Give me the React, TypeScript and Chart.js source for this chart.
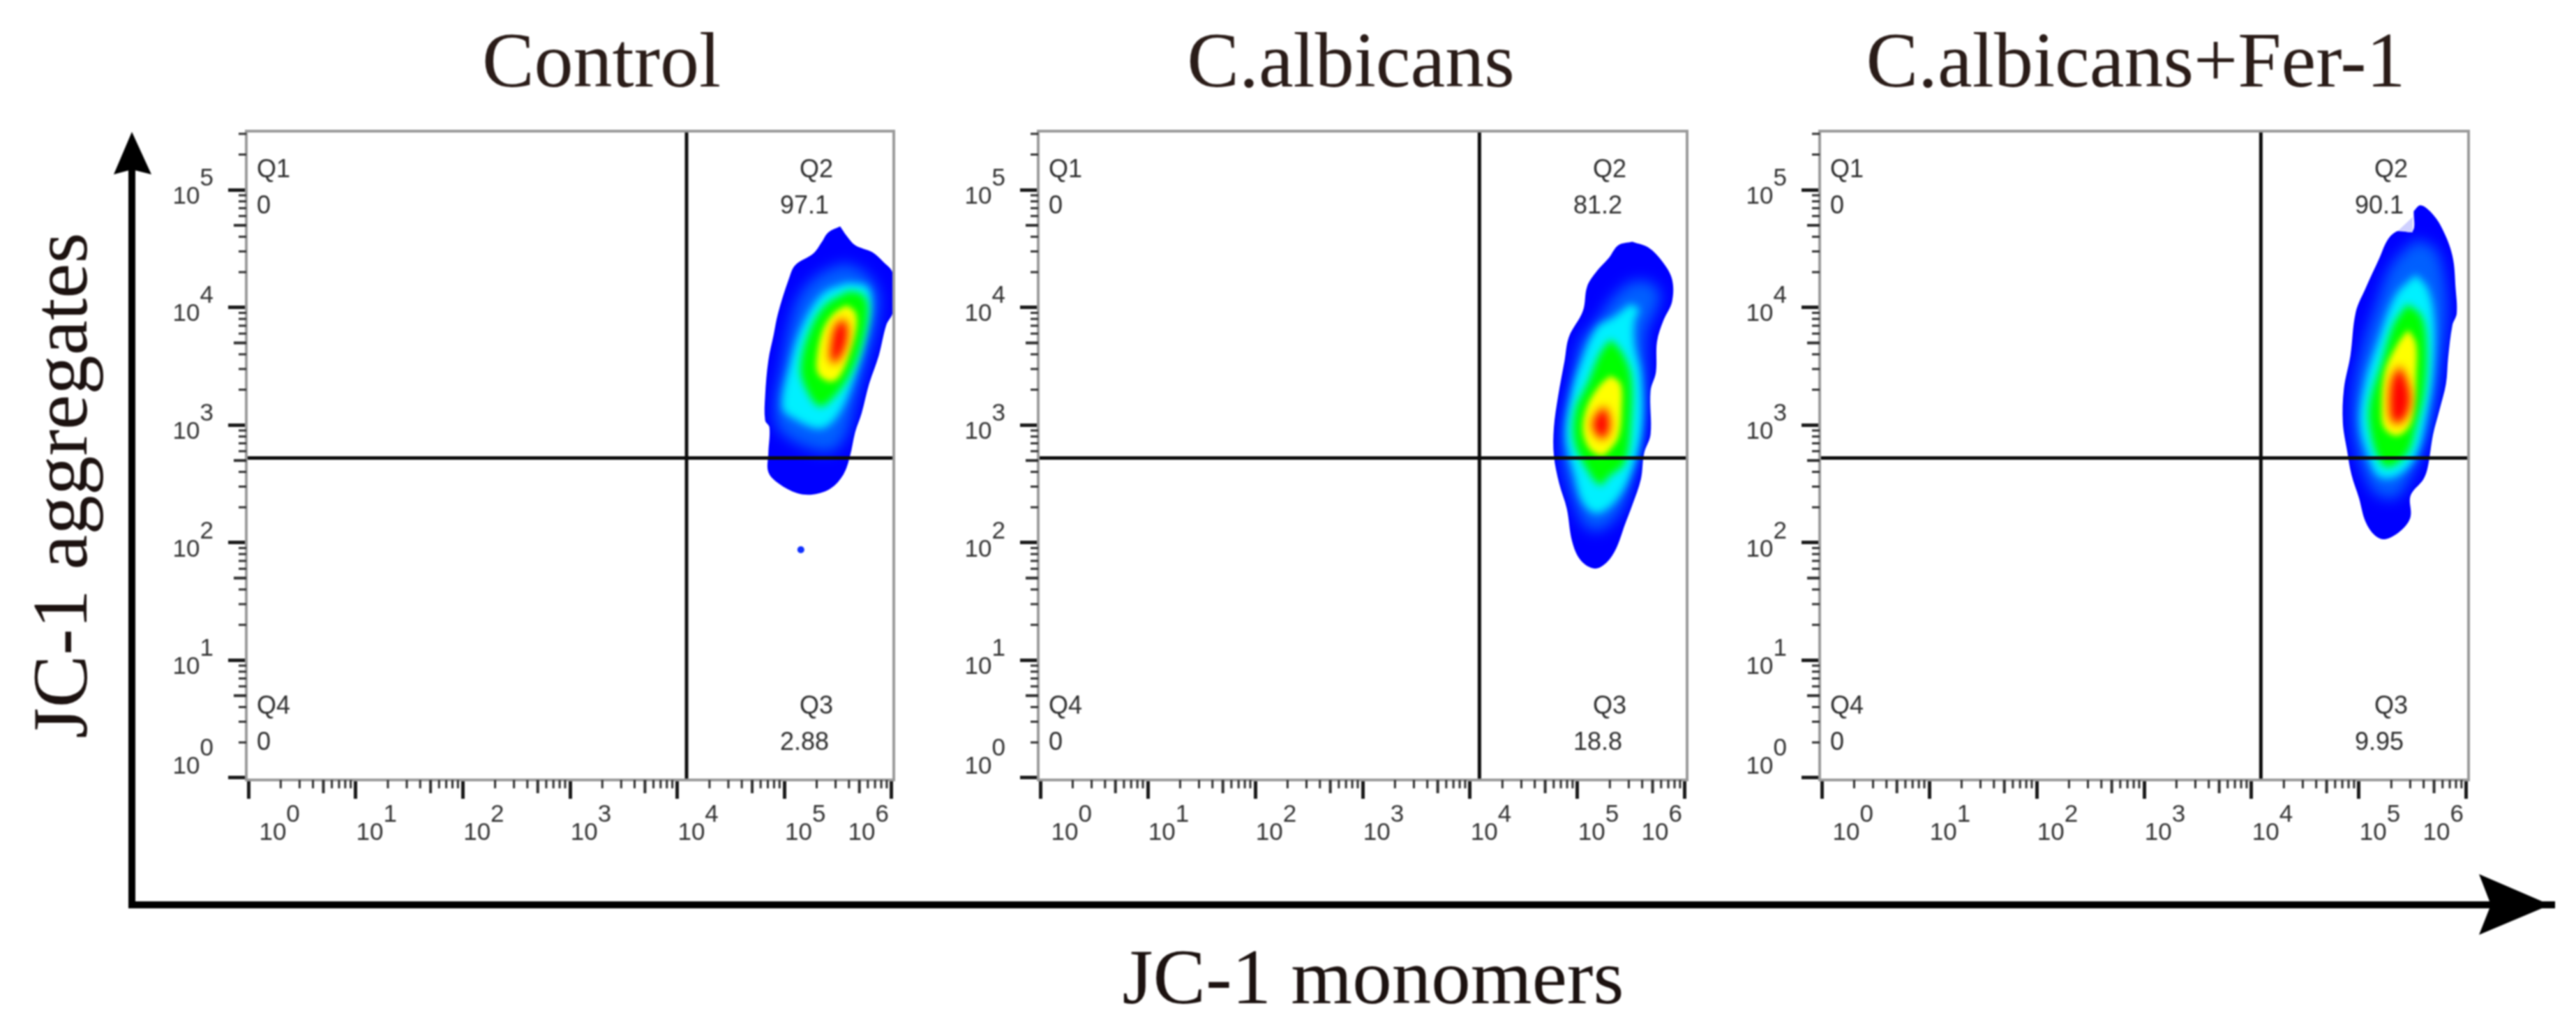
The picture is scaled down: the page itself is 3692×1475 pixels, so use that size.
import React, { useEffect, useRef } from "react";
import { Chart, registerables } from "chart.js";

// ---------- data (contours are [log10 JC-1 monomers, log10 JC-1 aggregates]) ----------
const panelTitles = ["Control", "C.albicans", "C.albicans+Fer-1"];
const q1Values = ["0", "0", "0"];
const q2Values = ["97.1", "81.2", "90.1"];
const q3Values = ["2.88", "18.8", "9.95"];
const q4Values = ["0", "0", "0"];
const xTickExponents = [0, 1, 2, 3, 4, 5, 6];
const yTickExponents = [0, 1, 2, 3, 4, 5];
const minorFactors = [2, 3, 4, 5, 6, 7, 8, 9];
const gateXExp = 4.087;
const gateYExp = 2.72;
const xAxisExp = [-0.02, 6.02];
const yAxisExp = [-0.018, 5.5];
const densityColors = ["#0000ff", "#0060ff", "#00f0ff", "#00ff00", "#ffff00", "#ff0000"];
const densityBlur = [0, 10, 6, 6, 4, 7];

const controlOuter = [[5.52,4.69],[5.58,4.61],[5.66,4.53],[5.82,4.47],[5.92,4.39],[6.01,4.29],[6.01,3.96],[5.95,3.85],[5.88,3.59],[5.79,3.35],[5.72,3.10],[5.66,2.94],[5.61,2.73],[5.55,2.58],[5.43,2.46],[5.27,2.41],[5.12,2.42],[4.95,2.50],[4.85,2.60],[4.85,2.76],[4.86,2.98],[4.82,3.04],[4.82,3.25],[4.85,3.55],[4.90,3.77],[4.94,3.95],[5.04,4.24],[5.10,4.36],[5.27,4.46],[5.35,4.56],[5.41,4.64]];
const controlMid = [[5.56,4.38],[5.75,4.30],[5.88,4.12],[5.86,3.85],[5.77,3.55],[5.66,3.19],[5.58,2.92],[5.45,2.78],[5.23,2.80],[4.95,2.96],[4.91,3.19],[4.97,3.49],[5.04,3.83],[5.14,4.10],[5.32,4.28]];
const controlCyan = [[5.58,4.21],[5.77,4.18],[5.81,4.04],[5.77,3.79],[5.66,3.43],[5.51,3.10],[5.34,2.97],[5.08,3.06],[4.98,3.15],[5.05,3.51],[5.17,3.85],[5.36,4.12]];
const controlGreen = [[5.60,4.14],[5.73,4.11],[5.78,3.99],[5.73,3.71],[5.60,3.41],[5.43,3.21],[5.32,3.16],[5.20,3.31],[5.15,3.49],[5.23,3.79],[5.38,4.02]];
const controlYellow = [[5.58,4.02],[5.66,3.96],[5.67,3.83],[5.60,3.59],[5.51,3.41],[5.43,3.37],[5.32,3.43],[5.30,3.55],[5.36,3.81],[5.46,3.95]];
const controlRed = [[5.55,3.91],[5.59,3.83],[5.57,3.67],[5.48,3.53],[5.43,3.55],[5.44,3.73],[5.48,3.85]];
const controlStray = [[5.153, 1.94]];

const albicansOuter = [[5.51,4.56],[5.66,4.51],[5.79,4.39],[5.88,4.24],[5.88,4.05],[5.80,3.89],[5.74,3.71],[5.73,3.45],[5.68,3.29],[5.68,2.92],[5.62,2.76],[5.59,2.54],[5.51,2.32],[5.44,2.15],[5.36,1.95],[5.27,1.83],[5.16,1.78],[5.03,1.85],[4.95,2.01],[4.90,2.29],[4.83,2.50],[4.78,2.74],[4.78,2.98],[4.82,3.25],[4.88,3.55],[4.92,3.75],[5.05,3.97],[5.09,4.18],[5.18,4.31],[5.29,4.42],[5.38,4.53]];
const albicansMid = [[5.49,4.22],[5.66,4.22],[5.77,4.12],[5.73,3.97],[5.64,3.79],[5.64,3.33],[5.60,2.94],[5.53,2.62],[5.42,2.29],[5.23,2.11],[5.08,2.13],[4.95,2.38],[4.86,2.70],[4.87,3.04],[4.95,3.39],[5.03,3.71],[5.18,3.89],[5.34,4.10]];
const albicansCyan = [[5.49,4.03],[5.57,3.99],[5.53,3.88],[5.53,3.69],[5.59,3.43],[5.60,2.98],[5.51,2.62],[5.36,2.36],[5.18,2.25],[5.05,2.34],[4.97,2.58],[4.89,2.90],[4.94,3.25],[5.03,3.53],[5.18,3.83],[5.34,3.92]];
const albicansGreen = [[5.31,3.73],[5.42,3.61],[5.50,3.41],[5.50,3.04],[5.44,2.68],[5.29,2.56],[5.21,2.49],[5.09,2.62],[4.97,2.86],[4.98,3.13],[5.10,3.37],[5.21,3.61]];
const albicansYellow = [[5.31,3.42],[5.40,3.35],[5.41,3.13],[5.38,2.90],[5.29,2.78],[5.22,2.74],[5.11,2.80],[5.05,2.96],[5.09,3.16],[5.21,3.34]];
const albicansRed = [[5.26,3.16],[5.30,3.04],[5.29,2.94],[5.23,2.88],[5.16,2.94],[5.14,3.02],[5.20,3.12]];

const ferOuter = [[5.51,4.82],[5.57,4.87],[5.66,4.82],[5.77,4.68],[5.87,4.44],[5.90,4.16],[5.91,3.95],[5.87,3.85],[5.83,3.57],[5.81,3.35],[5.75,3.13],[5.69,2.92],[5.64,2.64],[5.60,2.54],[5.48,2.40],[5.48,2.22],[5.40,2.11],[5.25,2.03],[5.15,2.06],[5.06,2.18],[5.00,2.38],[4.93,2.58],[4.89,2.78],[4.85,3.02],[4.86,3.31],[4.92,3.59],[4.97,3.96],[5.06,4.16],[5.19,4.42],[5.27,4.58],[5.36,4.65],[5.50,4.65]];
const ferMid = [[5.53,4.58],[5.71,4.50],[5.79,4.28],[5.82,3.96],[5.77,3.53],[5.69,3.08],[5.60,2.80],[5.47,2.54],[5.34,2.38],[5.15,2.42],[5.01,2.68],[4.94,2.98],[4.95,3.31],[5.04,3.69],[5.15,4.00],[5.30,4.36]];
const ferCyan = [[5.53,4.28],[5.64,4.16],[5.70,3.89],[5.69,3.45],[5.63,3.08],[5.53,2.74],[5.36,2.57],[5.19,2.56],[5.09,2.72],[5.01,3.02],[5.06,3.37],[5.17,3.69],[5.34,4.10]];
const ferGreen = [[5.45,4.03],[5.58,3.93],[5.63,3.69],[5.61,3.29],[5.53,2.98],[5.45,2.76],[5.27,2.64],[5.18,2.72],[5.10,2.98],[5.10,3.19],[5.21,3.53],[5.32,3.85]];
const ferYellow = [[5.46,3.81],[5.53,3.69],[5.53,3.41],[5.51,3.13],[5.46,2.98],[5.35,2.91],[5.24,2.97],[5.21,3.10],[5.24,3.45],[5.36,3.69]];
const ferRed = [[5.38,3.51],[5.45,3.37],[5.48,3.21],[5.43,3.06],[5.34,3.01],[5.29,3.08],[5.30,3.37]];
const ferNotch = [[5.36,4.65],[5.50,4.64],[5.50,4.77]];

const panelContours = [
  [controlOuter, controlMid, controlCyan, controlGreen, controlYellow, controlRed],
  [albicansOuter, albicansMid, albicansCyan, albicansGreen, albicansYellow, albicansRed],
  [ferOuter, ferMid, ferCyan, ferGreen, ferYellow, ferRed],
];
const panelStrays = [controlStray, [], []];
const panelNotches = [[], [], ferNotch];

// ---------- layout ----------
const W = 3692;
const H = 1475;
const panelLeft = [353, 1488, 2608];
const panelRight = [1281, 2418, 3538];
const panelTop = 188;
const panelBottom = 1118;
const yAxisW = 140;
const xAxisH = 130;
const titleCenter = [862, 1936, 3061];
const SANS = '"Liberation Sans", Arial, sans-serif';
const SERIF = '"Liberation Serif", "Times New Roman", serif';

const toPoint = (p: number[]) => ({ x: Math.pow(10, p[0]), y: Math.pow(10, p[1]) });

const filterPlugin = {
  id: "contourBlur",
  beforeDatasetDraw(chart: any, args: any) {
    const b = chart.data.datasets[args.index].contourBlur;
    if (b) {
      chart.ctx.filter = `blur(${b}px)`;
      chart.ctx.globalCompositeOperation = "source-atop";
    }
  },
  afterDatasetDraw(chart: any) {
    chart.ctx.filter = "none";
    chart.ctx.globalCompositeOperation = "source-over";
  },
};
Chart.register(filterPlugin, ...registerables);

const panelPlugin = (i: number) => ({
  id: "panelDecor" + i,
  afterDatasetsDraw(chart: any) {
    const { ctx, chartArea: a, scales } = chart;
    ctx.save();
    ctx.filter = "none";
    // frame
    ctx.strokeStyle = "#9a9a9a";
    ctx.lineWidth = 4;
    ctx.strokeRect(a.left, a.top, a.right - a.left, a.bottom - a.top);
    // minor ticks
    ctx.strokeStyle = "#2e2e2e";
    xTickExponents.forEach((e) =>
      minorFactors.forEach((f) => {
        const v = f * Math.pow(10, e);
        if (v > scales.x.max) return;
        const px = scales.x.getPixelForValue(v);
        ctx.lineWidth = f === 5 ? 4 : 3;
        ctx.beginPath();
        ctx.moveTo(px, a.bottom);
        ctx.lineTo(px, a.bottom + (f === 5 ? 19 : 12));
        ctx.stroke();
      })
    );
    yTickExponents.forEach((e) =>
      minorFactors.forEach((f) => {
        const v = f * Math.pow(10, e);
        if (v > scales.y.max) return;
        const py = scales.y.getPixelForValue(v);
        ctx.lineWidth = f === 5 ? 4 : 3;
        ctx.beginPath();
        ctx.moveTo(a.left, py);
        ctx.lineTo(a.left - (f === 5 ? 18 : 11), py);
        ctx.stroke();
      })
    );
    // quadrant text
    ctx.fillStyle = "#2e2e2e";
    ctx.font = `36px ${SANS}`;
    ctx.textBaseline = "alphabetic";
    ctx.textAlign = "left";
    ctx.fillText("Q1", a.left + 15, a.top + 66);
    ctx.fillText(q1Values[i], a.left + 15, a.top + 118);
    ctx.fillText("Q4", a.left + 15, a.bottom - 95);
    ctx.fillText(q4Values[i], a.left + 15, a.bottom - 43);
    ctx.textAlign = "center";
    ctx.fillText("Q2", a.right - 111, a.top + 66);
    ctx.fillText(q2Values[i], a.right - 128, a.top + 118);
    ctx.fillText("Q3", a.right - 111, a.bottom - 95);
    ctx.fillText(q3Values[i], a.right - 128, a.bottom - 43);
    // panel title
    ctx.fillStyle = "#2a1c18";
    ctx.font = `112px ${SERIF}`;
    ctx.textAlign = "center";
    ctx.fillText(panelTitles[i], titleCenter[i], 124);
    ctx.restore();
  },
});

const framePlugin = {
  id: "frameDecor",
  afterDatasetsDraw(chart: any) {
    const { ctx } = chart;
    ctx.save();
    ctx.filter = "none";
    ctx.strokeStyle = "#000";
    ctx.fillStyle = "#000";
    ctx.lineWidth = 10;
    ctx.beginPath();
    ctx.moveTo(189, 240);
    ctx.lineTo(189, 1297);
    ctx.lineTo(3662, 1297);
    ctx.stroke();
    ctx.beginPath();
    ctx.moveTo(189, 189);
    ctx.lineTo(217, 250);
    ctx.lineTo(189, 243);
    ctx.lineTo(163, 250);
    ctx.closePath();
    ctx.fill();
    ctx.beginPath();
    ctx.moveTo(3655, 1297);
    ctx.lineTo(3553, 1253);
    ctx.lineTo(3570, 1297);
    ctx.lineTo(3553, 1340);
    ctx.closePath();
    ctx.fill();
    ctx.fillStyle = "#1c1210";
    ctx.font = `113px ${SERIF}`;
    ctx.textAlign = "center";
    ctx.textBaseline = "alphabetic";
    ctx.fillText("JC-1 monomers", 1968, 1438);
    ctx.translate(124, 696);
    ctx.rotate(-Math.PI / 2);
    ctx.fillText("JC-1 aggregates", 0, 0);
    ctx.restore();
  },
};

const spaces = (n: number) => " ".repeat(n);
const xTickLabel = (value: number) => {
  const e = Math.round(Math.log10(value));
  const lead = e === 0 ? 3 : 0;
  const trail = e === 6 ? 13 : 0;
  return [spaces(lead + 4) + e + spaces(trail), spaces(lead) + "10" + spaces(2 + trail)];
};
const yTickLabel = (value: number) => {
  const e = Math.round(Math.log10(value));
  return e === 0 ? [String(e), "10  ", "", ""] : [String(e), "10  "];
};

function buildConfig(i: number): any {
  const contours = panelContours[i];
  const n = contours.length;
  const datasets: any[] = contours.map((c, k) => {
    const pts = c.concat([c[0]]).map(toPoint);
    return {
      label: "density " + k,
      data: pts,
      showLine: true,
      fill: "shape",
      tension: 0.35,
      borderWidth: 0,
      pointRadius: 0,
      backgroundColor: densityColors[k],
      borderColor: densityColors[k],
      contourBlur: densityBlur[k],
      order: 10 + n - k,
    };
  });
  if (panelNotches[i].length) {
    const c = panelNotches[i];
    datasets.push({
      label: "notch",
      data: c.concat([c[0]]).map(toPoint),
      showLine: true,
      fill: "shape",
      tension: 0,
      borderWidth: 0,
      pointRadius: 0,
      backgroundColor: "#cfd0ff",
      order: 6,
    });
  }
  if (panelStrays[i].length) {
    datasets.push({
      label: "stray",
      data: panelStrays[i].map(toPoint),
      showLine: false,
      pointRadius: 5,
      pointBorderWidth: 0,
      pointBackgroundColor: "#1030ff",
      order: 5,
    });
  }
  const xLim = xAxisExp.map((e) => Math.pow(10, e));
  const yLim = yAxisExp.map((e) => Math.pow(10, e));
  const gateX = Math.pow(10, gateXExp);
  const gateY = Math.pow(10, gateYExp);
  datasets.push({
    label: "gate x",
    data: [{ x: gateX, y: yLim[0] }, { x: gateX, y: yLim[1] }],
    showLine: true,
    borderColor: "#0c0c0c",
    borderWidth: 5,
    pointRadius: 0,
    order: 1,
  });
  datasets.push({
    label: "gate y",
    data: [{ x: xLim[0], y: gateY }, { x: xLim[1], y: gateY }],
    showLine: true,
    borderColor: "#0c0c0c",
    borderWidth: 5,
    pointRadius: 0,
    order: 1,
  });
  return {
    type: "scatter",
    data: { datasets },
    plugins: i === 0 ? [panelPlugin(i), framePlugin] : [panelPlugin(i)],
    options: {
      animation: false,
      responsive: false,
      devicePixelRatio: 1,
      layout: {
        padding: {
          left: panelLeft[i] - yAxisW,
          right: W - panelRight[i],
          top: panelTop,
          bottom: H - panelBottom - xAxisH,
        },
      },
      plugins: { legend: { display: false }, tooltip: { enabled: false }, title: { display: false } },
      scales: {
        x: {
          type: "logarithmic",
          min: xLim[0],
          max: xLim[1],
          afterFit: (s: any) => { s.height = xAxisH; },
          afterBuildTicks: (s: any) => { s.ticks = xTickExponents.map((e) => ({ value: Math.pow(10, e), major: true })); },
          border: { display: false },
          grid: { drawOnChartArea: false, drawTicks: true, tickLength: 27, tickWidth: 5, tickColor: "#1a1a1a" },
          ticks: {
            autoSkip: false,
            maxRotation: 0,
            minRotation: 0,
            padding: 10,
            labelOffset: 30,
            color: "#333333",
            font: { family: SANS, size: 35, lineHeight: 26 / 35 },
            callback: xTickLabel,
          },
        },
        y: {
          type: "logarithmic",
          min: yLim[0],
          max: yLim[1],
          afterFit: (s: any) => { s.width = yAxisW; },
          afterBuildTicks: (s: any) => { s.ticks = yTickExponents.map((e) => ({ value: Math.pow(10, e), major: true })); },
          border: { display: false },
          grid: { drawOnChartArea: false, drawTicks: true, tickLength: 26, tickWidth: 5, tickColor: "#1a1a1a" },
          ticks: {
            autoSkip: false,
            padding: 21,
            labelOffset: -3,
            color: "#333333",
            font: { family: SANS, size: 35, lineHeight: 26 / 35 },
            callback: yTickLabel,
          },
        },
      },
    },
  };
}

const canvasStyle: React.CSSProperties = { position: "absolute", left: 0, top: 0, display: "block" };

export default function App() {
  const refs = [useRef<HTMLCanvasElement>(null), useRef<HTMLCanvasElement>(null), useRef<HTMLCanvasElement>(null)];
  useEffect(() => {
    document.body.style.margin = "0";
    const charts = refs.map((r, i) => new Chart(r.current as HTMLCanvasElement, buildConfig(i)));
    return () => charts.forEach((c) => c.destroy());
  }, []);
  return (
    <div style={{ position: "relative", width: W, height: H, background: "#fff", overflow: "hidden", filter: "blur(1.1px)" }}>
      {refs.map((r, i) => (
        <canvas key={i} ref={r} width={W} height={H} style={canvasStyle} />
      ))}
    </div>
  );
}
